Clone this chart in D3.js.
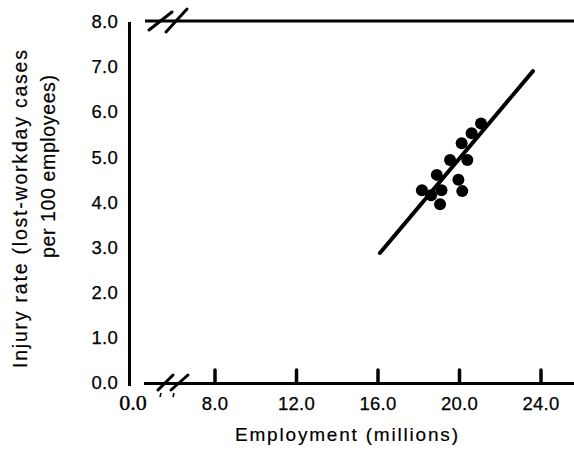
<!DOCTYPE html>
<html><head><meta charset="utf-8">
<script src="https://cdn.jsdelivr.net/npm/d3@7"></script>
<style>
body{margin:0;background:#fff;}
text{font-family:"Liberation Sans",Arial,sans-serif;fill:#000;}
</style></head>
<body><svg id="c" width="574" height="451"></svg>
<script>
const xTicks = [8, 12, 16, 20, 24];
const xTickLabels = ["8.0", "12.0", "16.0", "20.0", "24.0"];
const yTicks = [0, 1, 2, 3, 4, 5, 6, 7, 8];
const yTickLabels = ["0.0", "1.0", "2.0", "3.0", "4.0", "5.0", "6.0", "7.0", "8.0"];
const employment = [21.08, 20.62, 20.13, 20.41, 19.56, 18.91, 19.97, 20.16, 18.18, 19.14, 18.63, 19.07];
const injuryRate = [5.73, 5.51, 5.29, 4.92, 4.92, 4.59, 4.48, 4.23, 4.25, 4.25, 4.14, 3.94];
const fitX = [16.12, 23.63];
const fitY = [2.86, 6.89];
const xTitle = "Employment  (millions)";
const yTitle1 = "Injury rate (lost-workday cases";
const yTitle2 = "per 100 employees)";

const svg = d3.select("#c");
const x = d3.scaleLinear().domain([8, 24]).range([214.5, 540.5]);
const y = d3.scaleLinear().domain([0, 8]).range([382, 21]);
const sans = "Liberation Sans, Arial, sans-serif";

// y axis line
svg.append("line").attr("x1",129.5).attr("x2",129.5).attr("y1",22).attr("y2",386)
  .attr("stroke","#000").attr("stroke-width",3);

// y tick labels
const yAxis = d3.axisLeft(y).tickValues(yTicks).tickSize(0).tickPadding(0)
  .tickFormat((d,i)=>yTickLabels[i]);
const gy = svg.append("g").attr("transform","translate(118,0)").call(yAxis);
gy.select(".domain").remove();
gy.selectAll("text").attr("font-size",18.5).attr("letter-spacing",0.3).attr("dy","0.36em")
  .attr("font-family",sans).attr("fill","#000").attr("stroke","#000").attr("stroke-width",0.25);

// top line with break
svg.append("line").attr("x1",145).attr("x2",574).attr("y1",21).attr("y2",21)
  .attr("stroke","#000").attr("stroke-width",3);
[[149,30,172,12],[166,32,187,9]].forEach(s=>{
  svg.append("line").attr("x1",s[0]).attr("y1",s[1]).attr("x2",s[2]).attr("y2",s[3])
    .attr("stroke","#000").attr("stroke-width",3).attr("stroke-linecap","round");
});

// x axis baseline with break
svg.append("line").attr("x1",144).attr("x2",574).attr("y1",383.5).attr("y2",383.5)
  .attr("stroke","#000").attr("stroke-width",3);
[[158,390,173,375],[171,390,188,375]].forEach(s=>{
  svg.append("line").attr("x1",s[0]).attr("y1",s[1]).attr("x2",s[2]).attr("y2",s[3])
    .attr("stroke","#000").attr("stroke-width",3).attr("stroke-linecap","round");
});
[[161,393,160,397],[174,393,173,397]].forEach(s=>{
  svg.append("line").attr("x1",s[0]).attr("y1",s[1]).attr("x2",s[2]).attr("y2",s[3])
    .attr("stroke","#000").attr("stroke-width",1.5);
});

// x ticks (upward) via axis
const xAxis = d3.axisBottom(x).tickValues(xTicks).tickSizeInner(-14).tickSizeOuter(0)
  .tickFormat((d,i)=>xTickLabels[i]).tickPadding(0);
const gx = svg.append("g").attr("transform","translate(0,383)").call(xAxis);
gx.select(".domain").remove();
gx.selectAll(".tick line").attr("stroke","#000").attr("stroke-width",3.5).attr("stroke-linecap","round")
  .attr("y2",-13);
gx.selectAll(".tick text").attr("y",26.5).attr("dy",0).attr("font-size",18.5).attr("letter-spacing",0.3)
  .attr("font-family",sans).attr("fill","#000").attr("stroke","#000").attr("stroke-width",0.25);

// serif 0.0 label
svg.append("text").attr("x",133).attr("y",410).attr("text-anchor","middle")
  .style("font-family","'Liberation Serif','Times New Roman',serif").attr("font-size",22)
  .attr("stroke","#000").attr("stroke-width",0.4)
  .text("0.0");

// fit line
svg.append("line").attr("x1",x(fitX[0])).attr("y1",y(fitY[0])).attr("x2",x(fitX[1])).attr("y2",y(fitY[1]))
  .attr("stroke","#000").attr("stroke-width",4).attr("stroke-linecap","round");

// points
svg.selectAll("circle.pt").data(employment).enter().append("circle").attr("class","pt")
  .attr("cx",d=>x(d)).attr("cy",(d,i)=>y(injuryRate[i])).attr("r",6).attr("fill","#000");

// titles
svg.append("text").attr("x",235).attr("y",441).attr("font-size",19)
  .attr("stroke","#000").attr("stroke-width",0.2)
  .attr("textLength",223).attr("lengthAdjust","spacing").text(xTitle);
svg.append("text").attr("transform","translate(27,368) rotate(-90)").attr("font-size",19.5)
  .attr("stroke","#000").attr("stroke-width",0.2)
  .attr("textLength",318).attr("lengthAdjust","spacing").text(yTitle1);
svg.append("text").attr("transform","translate(55,258) rotate(-90)").attr("font-size",19.5)
  .attr("stroke","#000").attr("stroke-width",0.2)
  .attr("textLength",183).attr("lengthAdjust","spacing").text(yTitle2);
</script></body></html>
